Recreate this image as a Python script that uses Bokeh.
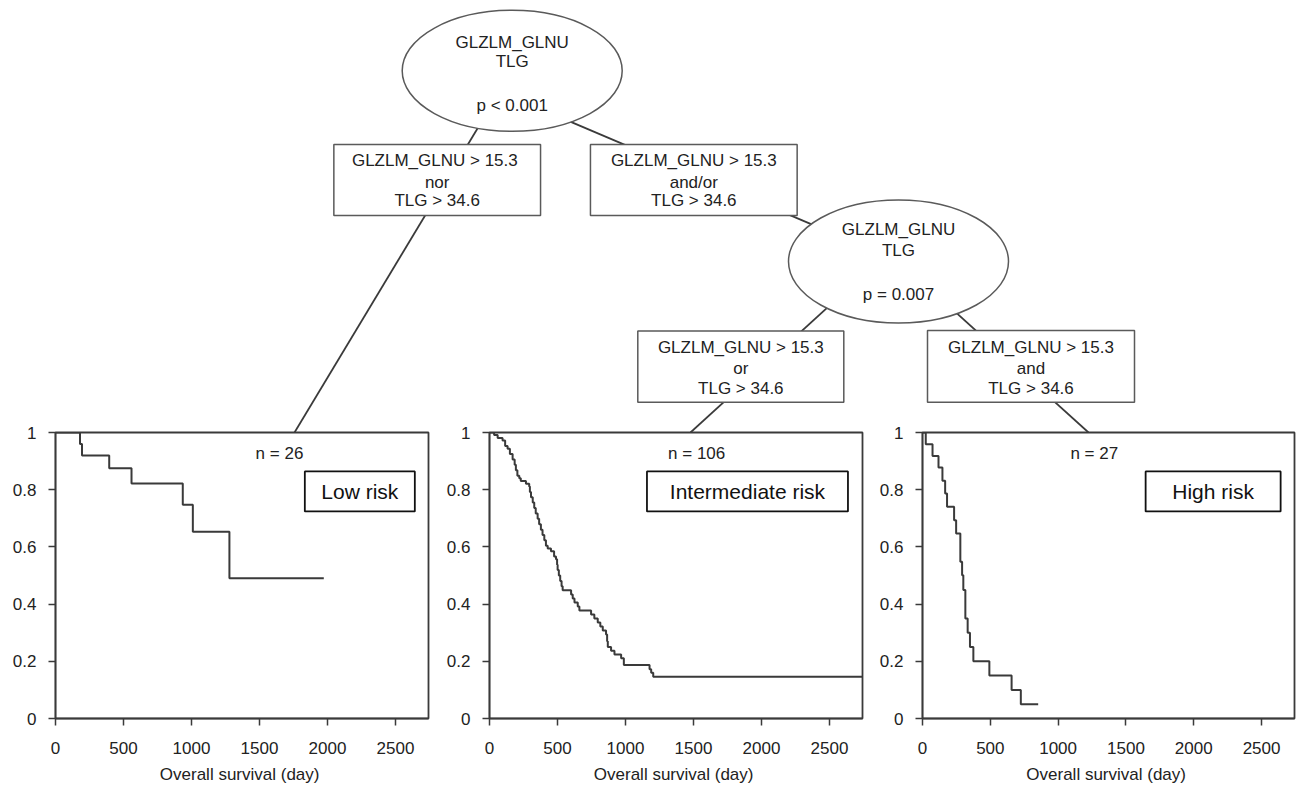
from bokeh.plotting import figure
from bokeh.layouts import column, row
from bokeh.models import Range1d, FixedTicker, NumeralTickFormatter
from bokeh.core.properties import value
from bokeh.embed import file_html
from bokeh.resources import INLINE

FONT = "Liberation Sans"
TXT = "#222222"
LN = "#3a3a3a"

# ---------------- data (Kaplan-Meier steps) ----------------
LOW_T = [180, 195, 395, 559, 936, 1010, 1279]
LOW_S = [0.960, 0.920, 0.875, 0.822, 0.747, 0.653, 0.490]
LOW_END = 1973

INT_T = [34, 60, 96, 115, 133, 150, 170, 185, 194, 205,
         219, 230, 268, 292, 297, 305, 318, 329, 340, 354,
         365, 378, 390, 403, 415, 428, 452, 475, 489, 497,
         501, 510, 520, 530, 538, 600, 612, 625, 649, 661,
         747, 771, 796, 815, 833, 857, 865, 870, 894, 919,
         968, 988, 1177, 1189, 1204]
INT_S = [0.991, 0.981, 0.972, 0.953, 0.943, 0.925, 0.906, 0.887, 0.868, 0.849,
         0.840, 0.830, 0.821, 0.811, 0.792, 0.774, 0.755, 0.736, 0.717, 0.698,
         0.679, 0.660, 0.642, 0.623, 0.604, 0.594, 0.585, 0.566, 0.557, 0.538,
         0.519, 0.500, 0.481, 0.462, 0.448, 0.434, 0.420, 0.406, 0.392, 0.378,
         0.364, 0.350, 0.336, 0.322, 0.308, 0.294, 0.270, 0.250, 0.237, 0.224,
         0.211, 0.187, 0.172, 0.160, 0.146]
INT_END = 2743

HIGH_T = [24, 74, 118, 147, 167, 181, 233, 248, 279, 292, 301, 316, 333, 350, 375, 493, 657, 725]
HIGH_S = [0.959, 0.918, 0.878, 0.831, 0.787, 0.740, 0.693, 0.647, 0.548, 0.501,
          0.449, 0.350, 0.300, 0.250, 0.200, 0.150, 0.100, 0.050]
HIGH_END = 853

N_LABELS = ["n = 26", "n =  106", "n =  27"]
N_X = [1647, 1541, 1284]
N_Y = 0.927
RISK_LABELS = ["Low risk", "Intermediate risk", "High risk"]
RISK_X = [2238, 1897, 2143]
RISK_Y = 0.794

X_TICKS = [0, 500, 1000, 1500, 2000, 2500]
Y_TICKS = [0, 0.2, 0.4, 0.6, 0.8, 1]
X_MAX = 2743
X_TITLE = "Overall  survival (day)"

NODE_TEXT = [["GLZLM_GLNU", "TLG", "p < 0.001"],
             ["GLZLM_GLNU", "TLG", "p = 0.007"]]
EDGE_TEXT = [["GLZLM_GLNU >  15.3", "nor", "TLG > 34.6"],
             ["GLZLM_GLNU > 15.3", "and/or", "TLG > 34.6"],
             ["GLZLM_GLNU > 15.3", "or", "TLG > 34.6"],
             ["GLZLM_GLNU > 15.3", "and", "TLG > 34.6"]]

# ---------------- tree layout (screen pixels of the tree canvas) ----------------
TW, TH = 1300, 432
NODES = [dict(x=511.7, y=70.3, w=220, h=121, ty=[41.7, 61, 105]),
         dict(x=898.0, y=261.0, w=220, h=123, ty=[229.3, 250, 294.3])]
BOXES = [dict(x=436.7, y=179.5, w=206.7, h=71, ty=[160, 181.7, 200]),
         dict(x=693.3, y=179.5, w=206.7, h=71, ty=[160, 181.7, 200]),
         dict(x=740.3, y=366.1, w=206, h=71.2, ty=[346.7, 367.7, 387.7]),
         dict(x=1030.5, y=365.9, w=207, h=71.7, ty=[346.7, 367.7, 387.7])]
EDGES = [((511.7, 70.3), (294, 432)),
         ((563.25, 118.3), (821.75, 228.3)),
         ((830.4, 303.8), (690, 432)),
         ((946.5, 303.9), (1088, 432))]

tree = figure(width=TW, height=TH, x_range=Range1d(0, TW), y_range=Range1d(TH, 0),
              output_backend="svg", toolbar_location=None,
              x_axis_location=None, y_axis_location=None,
              min_border=0, outline_line_color=None)
tree.grid.visible = False
for (a, b) in EDGES:
    tree.line([a[0], b[0]], [a[1], b[1]], line_color=LN, line_width=1.8)
for nd in NODES:
    tree.ellipse(x=nd["x"], y=nd["y"], width=nd["w"], height=nd["h"],
                 fill_color="white", line_color="#5a5a5a", line_width=1.5)
for bx in BOXES:
    tree.rect(x=bx["x"], y=bx["y"], width=bx["w"], height=bx["h"],
              fill_color="white", line_color="#5a5a5a", line_width=1.5)
for nd, lines in zip(NODES, NODE_TEXT):
    tree.text(x=[nd["x"]] * 3, y=nd["ty"], text=lines, text_align="center",
              text_baseline="middle", text_font=value(FONT), text_font_size="17px",
              text_color=TXT)
for bx, lines in zip(BOXES, EDGE_TEXT):
    tree.text(x=[bx["x"]] * 3, y=bx["ty"], text=lines, text_align="center",
              text_baseline="middle", text_font=value(FONT), text_font_size="17px",
              text_color=TXT)


def km_panel(times, surv, end, n_label, n_x, risk, risk_x, box_w, width, bl, br):
    p = figure(width=width, height=365, x_range=Range1d(0, X_MAX), y_range=Range1d(0, 1),
               output_backend="svg", toolbar_location=None,
               min_border_left=bl, min_border_right=br, min_border_top=10, min_border_bottom=69)
    p.border_fill_alpha = 0
    p.background_fill_color = "white"
    p.grid.visible = False
    p.outline_line_color = LN
    p.outline_line_width = 1.8
    xs = [0] + list(times) + [end]
    ys = [1.0] + list(surv) + [surv[-1]]
    p.step(xs, ys, mode="after", line_color=LN, line_width=2)
    p.text(x=[n_x], y=[N_Y], text=[n_label], text_align="center", text_baseline="middle",
           text_font=value(FONT), text_font_size="17px", text_color=TXT)
    p.rect(x=[risk_x], y=[RISK_Y], width=box_w, height=40, width_units="screen",
           height_units="screen", fill_color="white", line_color="#111111", line_width=1.8)
    p.text(x=[risk_x], y=[RISK_Y], text=[risk], text_align="center", text_baseline="middle",
           text_font=value(FONT), text_font_size="21px", text_color="#111111")
    for ax in (p.xaxis[0], p.yaxis[0]):
        ax.axis_line_color = LN
        ax.axis_line_width = 1.5
        ax.major_tick_line_color = LN
        ax.major_tick_line_width = 1.5
        ax.major_tick_out = 7
        ax.major_tick_in = 0
        ax.minor_tick_line_color = None
        ax.major_label_text_font = FONT
        ax.major_label_text_font_size = "17px"
        ax.major_label_text_color = TXT
    p.xaxis.ticker = FixedTicker(ticks=X_TICKS)
    p.yaxis.ticker = FixedTicker(ticks=Y_TICKS)
    p.yaxis.formatter = NumeralTickFormatter(format="0.[0]")
    p.xaxis.major_label_standoff = 16
    p.yaxis.major_label_standoff = 12
    p.xaxis.axis_label = X_TITLE
    p.xaxis.axis_label_standoff = 8
    p.xaxis.axis_label_text_font = FONT
    p.xaxis.axis_label_text_font_size = "17px"
    p.xaxis.axis_label_text_font_style = "normal"
    p.xaxis.axis_label_text_color = TXT
    return p


k1 = km_panel(LOW_T, LOW_S, LOW_END, N_LABELS[0], N_X[0], RISK_LABELS[0], RISK_X[0], 110, 441, 55, 13)
k2 = km_panel(INT_T, INT_S, INT_END, N_LABELS[1], N_X[1], RISK_LABELS[1], RISK_X[1], 201, 433, 48, 12)
k3 = km_panel(HIGH_T, HIGH_S, HIGH_END, N_LABELS[2], N_X[2], RISK_LABELS[2], RISK_X[2], 135, 426, 48, 6)

layout = column(tree, row(k1, k2, k3, margin=(-10, 0, 0, 0)))

open("out.html", "w").write(file_html(layout, INLINE))
